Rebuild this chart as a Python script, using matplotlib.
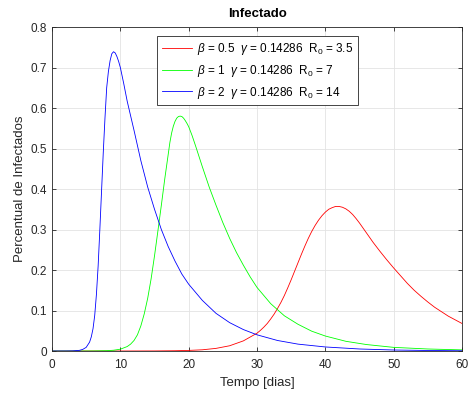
import matplotlib
matplotlib.use('Agg')
from matplotlib import pyplot as plt

# values (fraction infected vs days)
t_red = [0, 10, 15, 18, 20, 22, 24, 26, 28, 30, 30.5, 31, 31.5, 32, 32.5, 33, 33.5, 34,
         34.5, 35, 35.5, 36, 36.5, 37, 37.5, 38, 38.5, 39, 39.5, 40, 40.5, 41, 41.5, 42,
         42.5, 43, 43.5, 44, 44.5, 45, 46, 47, 48, 49, 50, 51, 52, 53, 54, 55, 56, 57,
         58, 59, 60]
i_red = [0.0, 0.00003, 0.0002, 0.0007, 0.0015, 0.003, 0.0065, 0.013, 0.025, 0.044, 0.051,
         0.059, 0.068, 0.079, 0.091, 0.105, 0.12, 0.137, 0.156, 0.176, 0.197, 0.218, 0.239,
         0.259, 0.278, 0.295, 0.31, 0.323, 0.334, 0.343, 0.35, 0.354, 0.357, 0.357, 0.355,
         0.351, 0.345, 0.337, 0.327, 0.316, 0.292, 0.268, 0.246, 0.225, 0.205, 0.186,
         0.167, 0.15, 0.135, 0.121, 0.108, 0.097, 0.086, 0.077, 0.068]

t_green = [0, 4, 6, 8, 9, 10, 11, 11.5, 12, 12.5, 13, 13.5, 14, 14.5, 15, 15.5, 16, 16.5,
           17, 17.25, 17.5, 17.75, 18, 18.25, 18.5, 18.75, 19, 19.25, 19.5, 19.75, 20,
           20.5, 21, 21.5, 22, 23, 24, 25, 26, 27, 28, 29, 30, 32, 34, 36, 38, 40, 43,
           46, 50, 55, 60]
i_green = [0.0, 0.00003, 0.00015, 0.0008, 0.0019, 0.0045, 0.011, 0.017, 0.026, 0.04, 0.062,
           0.092, 0.13, 0.178, 0.235, 0.297, 0.36, 0.425, 0.485, 0.515, 0.538, 0.555,
           0.567, 0.575, 0.579, 0.58, 0.579, 0.575, 0.569, 0.562, 0.554, 0.532, 0.507,
           0.481, 0.455, 0.405, 0.36, 0.317, 0.278, 0.243, 0.212, 0.183, 0.157, 0.117,
           0.087, 0.066, 0.049, 0.037, 0.024, 0.016, 0.009, 0.005, 0.0028]

t_blue = [0, 1, 2, 3, 4, 4.5, 5, 5.5, 5.75, 6, 6.25, 6.5, 6.75, 7, 7.25, 7.5, 7.75, 8,
          8.25, 8.5, 8.75, 9, 9.25, 9.5, 9.75, 10, 10.5, 11, 12, 13, 14, 15, 16, 17, 18,
          19, 20, 22, 24, 26, 28, 30, 33, 36, 40, 45, 50, 55, 60]
i_blue = [0.0, 0.0, 0.00005, 0.0003, 0.0016, 0.004, 0.009, 0.022, 0.035, 0.055, 0.088,
          0.14, 0.21, 0.30, 0.395, 0.49, 0.575, 0.65, 0.69, 0.717, 0.734, 0.739, 0.736,
          0.727, 0.715, 0.70, 0.66, 0.617, 0.545, 0.47, 0.405, 0.35, 0.30, 0.258, 0.222,
          0.19, 0.165, 0.125, 0.093, 0.07, 0.053, 0.04, 0.026, 0.017, 0.01, 0.005, 0.0025,
          0.0013, 0.0006]

labels = [r'$\beta$ = 0.5  $\gamma$ = 0.14286  R$_0$ = 3.5',
          r'$\beta$ = 1  $\gamma$ = 0.14286  R$_0$ = 7',
          r'$\beta$ = 2  $\gamma$ = 0.14286  R$_0$ = 14']
colors = ['#ff0000', '#00ff00', '#0000ff']

plt.rcParams['font.family'] = ['Liberation Sans', 'DejaVu Sans']
plt.rcParams['mathtext.fontset'] = 'custom'
plt.rcParams['mathtext.rm'] = 'Liberation Sans'
plt.rcParams['mathtext.it'] = 'Liberation Sans:italic'

dark = '#262626'
fig = plt.figure(figsize=(4.69, 3.94), dpi=100)
ax = fig.add_axes([0.1109, 0.1091, 0.8742, 0.8223])

series = [(t_red, i_red), (t_green, i_green), (t_blue, i_blue)]
for (t, y), c, lab in zip(series, colors, labels):
    ax.plot(t, y, color=c, linewidth=0.6, label=lab)

ax.set_xlim(0, 60)
ax.set_ylim(0, 0.8)
ax.set_xticks(range(0, 61, 10))
ax.set_yticks([i / 10 for i in range(9)])
ax.set_yticklabels(['0', '0.1', '0.2', '0.3', '0.4', '0.5', '0.6', '0.7', '0.8'])
ax.grid(True, color='#e3e3e3', linewidth=0.6)
ax.set_axisbelow(True)
ax.tick_params(direction='in', top=True, right=True, length=3, width=0.6,
               colors=dark, labelsize=8.5)
ax.tick_params(axis='x', pad=6)
for s in ax.spines.values():
    s.set_color(dark)
    s.set_linewidth(0.6)

ax.set_title('Infectado', fontsize=9.5, fontweight='bold', color='black', pad=7)
ax.set_xlabel('Tempo [dias]', fontsize=9.5, color=dark, labelpad=4)
ax.set_ylabel('Percentual de Infectados', fontsize=9.5, color=dark, labelpad=3)

leg = ax.legend(loc='upper left', bbox_to_anchor=(0.256, 0.972), fontsize=8.5,
                fancybox=False, framealpha=1, edgecolor=dark, handlelength=2.6,
                handletextpad=0.4, labelspacing=0.5, borderaxespad=0, borderpad=0.4)
leg.get_frame().set_linewidth(0.6)

fig.savefig('out.png', dpi=100)
